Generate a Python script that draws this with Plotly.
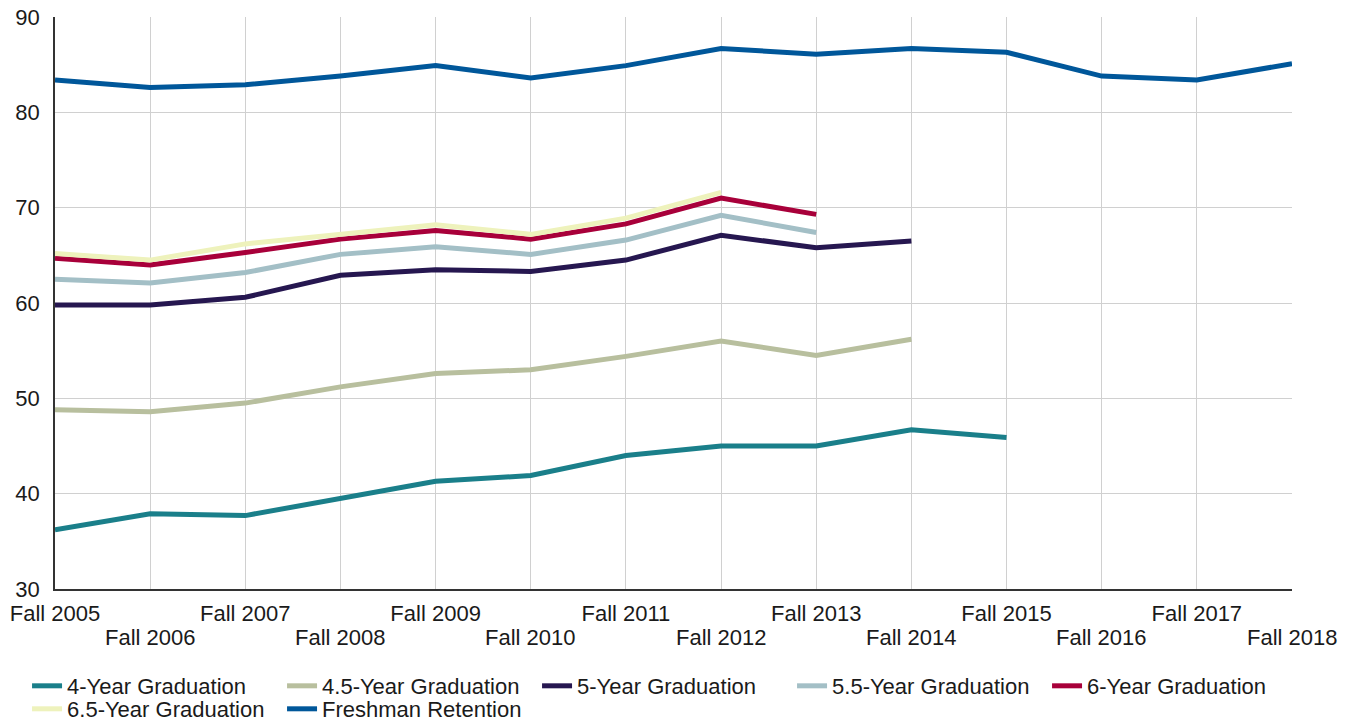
import plotly.graph_objects as go

terms = ["Fall 2005", "Fall 2006", "Fall 2007", "Fall 2008", "Fall 2009", "Fall 2010", "Fall 2011",
         "Fall 2012", "Fall 2013", "Fall 2014", "Fall 2015", "Fall 2016", "Fall 2017", "Fall 2018"]

grad_4yr = [36.2, 37.9, 37.7, 39.5, 41.3, 41.9, 44.0, 45.0, 45.0, 46.7, 45.9, None, None, None]
grad_45yr = [48.8, 48.6, 49.5, 51.2, 52.6, 53.0, 54.4, 56.0, 54.5, 56.2, None, None, None, None]
grad_5yr = [59.8, 59.8, 60.6, 62.9, 63.5, 63.3, 64.5, 67.1, 65.8, 66.5, None, None, None, None]
grad_55yr = [62.5, 62.1, 63.2, 65.1, 65.9, 65.1, 66.6, 69.2, 67.4, None, None, None, None, None]
grad_6yr = [64.7, 64.0, 65.3, 66.7, 67.6, 66.7, 68.3, 71.0, 69.3, None, None, None, None, None]
grad_65yr = [65.2, 64.5, 66.2, 67.2, 68.2, 67.2, 68.9, 71.6, None, None, None, None, None, None]
retention = [83.4, 82.6, 82.9, 83.8, 84.9, 83.6, 84.9, 86.7, 86.1, 86.7, 86.3, 83.8, 83.4, 85.1]

# name, values, colour, which legend row
series = [
    ("4-Year Graduation", grad_4yr, "#1a7f8a", "legend"),
    ("4.5-Year Graduation", grad_45yr, "#b8bf9e", "legend"),
    ("5-Year Graduation", grad_5yr, "#261750", "legend"),
    ("5.5-Year Graduation", grad_55yr, "#a3bfc6", "legend"),
    ("6-Year Graduation", grad_6yr, "#a8003a", "legend"),
    ("6.5-Year Graduation", grad_65yr, "#eef2bc", "legend2"),
    ("Freshman Retention", retention, "#00579a", "legend2"),
]

fig = go.Figure()
for name, values, color, legend in series:
    fig.add_trace(go.Scatter(
        x=terms, y=values, name=name, mode="lines", legend=legend,
        line=dict(color=color, width=5), connectgaps=False,
    ))

font_family = "Liberation Sans, Arial, sans-serif"
text_color = "#1a1a1a"

# labels alternate over two rows: even ones as tick labels, odd ones one row lower
row1_text = [t if i % 2 == 0 else "" for i, t in enumerate(terms)]
for i, t in enumerate(terms):
    if i % 2 == 1:
        fig.add_annotation(
            x=t, y=0, xref="x", yref="paper", text=t, showarrow=False,
            yanchor="middle", yshift=-48, font=dict(size=22, color=text_color),
        )

legend_common = dict(
    orientation="h", xref="paper", yref="paper",
    x=-0.0226, xanchor="left", yanchor="middle",
    entrywidth=210, entrywidthmode="pixels",
    font=dict(size=22, color=text_color), bgcolor="rgba(0,0,0,0)",
)

fig.update_layout(
    width=1338, height=715,
    margin=dict(l=47, r=54, t=9, b=134, autoexpand=False),
    plot_bgcolor="white", paper_bgcolor="white",
    font=dict(family=font_family, size=22, color=text_color),
    showlegend=True,
    legend=dict(legend_common, y=-0.1696),
    legend2=dict(legend_common, y=-0.2098),
)
fig.update_xaxes(
    type="category", range=[0, len(terms) - 1],
    tickvals=terms, ticktext=row1_text, tickangle=0,
    showgrid=True, gridcolor="#d0d0d0", gridwidth=1.3,
    showline=True, linecolor="#333333", linewidth=1.5,
    ticks="", ticklabelstandoff=4, automargin=False,
)
fig.update_yaxes(
    range=[30, 90], dtick=10,
    showgrid=True, gridcolor="#d0d0d0", gridwidth=1.3,
    showline=True, linecolor="#333333", linewidth=1.5,
    zeroline=False, ticks="", ticklabelstandoff=9, automargin=False,
    ticklabeloverflow="allow",
)

fig.write_html("out.html")
